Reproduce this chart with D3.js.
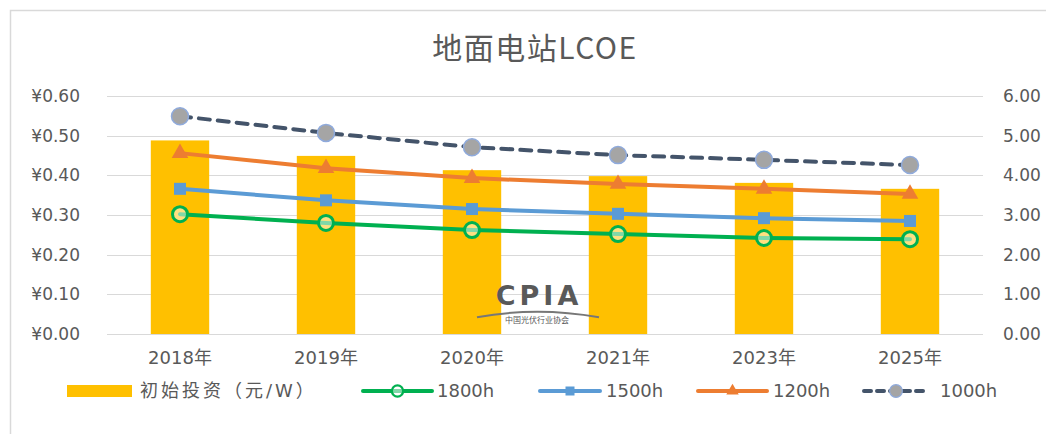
<!DOCTYPE html>
<html>
<head>
<meta charset="utf-8">
<script src="https://cdn.jsdelivr.net/npm/d3@7"></script>
<style>
  body { margin: 0; background: #fff; }
  text { font-family: "DejaVu Sans", "Noto Sans CJK SC", sans-serif; fill: #595959; }
</style>
</head>
<body>
<div id="chart"></div>
<script>
// Data
var years = ["2018年", "2019年", "2020年", "2021年", "2023年", "2025年"];
var invest = [4.88, 4.49, 4.13, 3.98, 3.81, 3.66];          // 初始投资（元/W）, right axis
var lcoe1800 = [0.302, 0.280, 0.262, 0.252, 0.242, 0.239];  // left axis
var lcoe1500 = [0.366, 0.337, 0.315, 0.303, 0.292, 0.285];
var lcoe1200 = [0.456, 0.418, 0.393, 0.378, 0.366, 0.353];
var lcoe1000 = [0.549, 0.507, 0.471, 0.451, 0.439, 0.426];
var leftTicks = [0, 0.1, 0.2, 0.3, 0.4, 0.5, 0.6];
var rightTicks = [0, 1, 2, 3, 4, 5, 6];

var W = 1046, H = 434;
var margin = { top: 96, right: 63, bottom: 100, left: 107 },
    width = W - margin.left - margin.right,
    height = H - margin.top - margin.bottom;

var svgRoot = d3.select("#chart").append("svg")
    .attr("width", W)
    .attr("height", H);

// outer frame (only top and left edges are visible in the picture)
svgRoot.append("path")
    .attr("d", "M10.5," + H + "V10.5H" + W)
    .attr("fill", "none")
    .attr("stroke", "#d9d9d9")
    .attr("stroke-width", 1.5);

// title
svgRoot.append("text")
    .attr("x", 535)
    .attr("y", 59)
    .attr("text-anchor", "middle")
    .style("font-family", "'Noto Sans CJK SC', sans-serif")
    .style("font-size", "30px")
    .style("letter-spacing", "1.5px")
    .text("地面电站LCOE");

var svg = svgRoot.append("g")
    .attr("transform", "translate(" + margin.left + "," + margin.top + ")");

var x = d3.scaleBand().domain(years).range([0, width]).padding(0);
var yL = d3.scaleLinear().domain([0, 0.6]).range([height, 0]);
var yR = d3.scaleLinear().domain([0, 6]).range([height, 0]);

// gridlines
svg.selectAll(".grid")
    .data(leftTicks)
    .enter().append("line")
    .attr("x1", 0)
    .attr("x2", width)
    .attr("y1", function (d) { return Math.round(yL(d)) + 0.5; })
    .attr("y2", function (d) { return Math.round(yL(d)) + 0.5; })
    .attr("stroke", "#d9d9d9")
    .attr("stroke-width", 1);

// left axis
var axL = svg.append("g")
    .call(d3.axisLeft(yL).tickValues(leftTicks).tickSize(0).tickPadding(27)
        .tickFormat(function (d) { return "¥" + d.toFixed(2); }));
axL.select(".domain").remove();
axL.selectAll("text").style("font-size", "17px").attr("fill", "#595959");

// right axis
var axR = svg.append("g")
    .attr("transform", "translate(" + width + ",0)")
    .call(d3.axisRight(yR).tickValues(rightTicks).tickSize(0).tickPadding(20)
        .tickFormat(function (d) { return d.toFixed(2); }));
axR.select(".domain").remove();
axR.selectAll("text").style("font-size", "17px").attr("fill", "#595959");

// bottom category labels
var axB = svg.append("g")
    .attr("transform", "translate(0," + height + ")")
    .call(d3.axisBottom(x).tickSize(0).tickPadding(17));
axB.select(".domain").remove();
axB.selectAll("text").style("font-size", "18px").attr("fill", "#595959");

// bars
var barW = x.bandwidth() * 0.4;
svg.selectAll(".bar")
    .data(invest)
    .enter().append("rect")
    .attr("x", function (d, i) { return x(years[i]) + (x.bandwidth() - barW) / 2; })
    .attr("y", function (d) { return yR(d); })
    .attr("width", barW)
    .attr("height", function (d) { return height - yR(d); })
    .attr("fill", "#ffc000");

// watermark
var wm = svg.append("g").attr("transform", "translate(" + (x(years[2]) + x.bandwidth() - 8) + ",0)");
wm.append("text")
    .attr("x", 2).attr("y", yL(0.073))
    .attr("text-anchor", "middle")
    .style("font-size", "27px").style("font-weight", "bold")
    .attr("fill", "#666")
    .style("letter-spacing", "4px")
    .text("CPIA");
wm.append("path")
    .attr("d", "M-60," + (yL(0.042)) + "Q0," + (yL(0.07)) + " 62," + (yL(0.042)))
    .attr("fill", "none").attr("stroke", "#777").attr("stroke-width", 2);
wm.append("text")
    .attr("x", 0).attr("y", yL(0.027))
    .attr("text-anchor", "middle")
    .style("font-size", "8px")
    .attr("fill", "#555")
    .text("中国光伏行业协会");

var series = [
    { name: "1800h", values: lcoe1800, color: "#00b050", marker: "ring" },
    { name: "1500h", values: lcoe1500, color: "#5b9bd5", marker: "square" },
    { name: "1200h", values: lcoe1200, color: "#ed7d31", marker: "triangle" },
    { name: "1000h", values: lcoe1000, color: "#44546a", marker: "dot", dash: "11,8" }
];

var line = d3.line()
    .x(function (d, i) { return x(years[i]) + x.bandwidth() / 2; })
    .y(function (d) { return yL(d); });

function drawMarker(g, type, color) {
    if (type === "ring") {
        g.append("circle").attr("r", 7.5).attr("fill", "#fff").attr("fill-opacity", 0.5)
            .attr("stroke", color).attr("stroke-width", 3);
    } else if (type === "square") {
        g.append("rect").attr("x", -6).attr("y", -6).attr("width", 12).attr("height", 12).attr("fill", color);
    } else if (type === "triangle") {
        g.append("path").attr("d", d3.symbol().type(d3.symbolTriangle).size(120)()).attr("fill", color);
    } else {
        g.append("circle").attr("r", 8.5).attr("fill", "#a5a5a5")
            .attr("stroke", "#8faadc").attr("stroke-width", 1.5);
    }
}

series.forEach(function (s) {
    svg.append("path")
        .datum(s.values)
        .attr("d", line)
        .attr("fill", "none")
        .attr("stroke", s.color)
        .attr("stroke-width", 4)
        .attr("stroke-linecap", "round")
        .attr("stroke-dasharray", s.dash || null);
    s.values.forEach(function (v, i) {
        var g = svg.append("g")
            .attr("transform", "translate(" + (x(years[i]) + x.bandwidth() / 2) + "," + yL(v) + ")");
        drawMarker(g, s.marker, s.color);
    });
});

// legend
var legY = 391;
var lg = svgRoot.append("g");
lg.append("rect").attr("x", 67).attr("y", legY - 6).attr("width", 65).attr("height", 12).attr("fill", "#ffc000");
lg.append("text").attr("x", 140).attr("y", legY).attr("dy", "0.35em")
    .style("font-size", "18px").style("letter-spacing", "3px").text("初始投资（元/W）");

var legItems = [
    { s: series[0], x1: 363, x2: 432, tx: 437 },
    { s: series[1], x1: 540, x2: 600, tx: 606 },
    { s: series[2], x1: 698, x2: 767, tx: 773 },
    { s: series[3], x1: 864, x2: 928, tx: 940 }
];
legItems.forEach(function (it) {
    lg.append("line")
        .attr("x1", it.x1).attr("x2", it.x2).attr("y1", legY).attr("y2", legY)
        .attr("stroke", it.s.color).attr("stroke-width", 4)
        .attr("stroke-linecap", "round")
        .attr("stroke-dasharray", it.s.dash ? "7,6" : null);
    var g = lg.append("g").attr("transform", "translate(" + ((it.x1 + it.x2) / 2) + "," + legY + ") scale(0.75)");
    drawMarker(g, it.s.marker, it.s.color);
    lg.append("text").attr("x", it.tx).attr("y", legY).attr("dy", "0.35em")
        .style("font-size", "18px").text(it.s.name);
});
</script>
</body>
</html>
